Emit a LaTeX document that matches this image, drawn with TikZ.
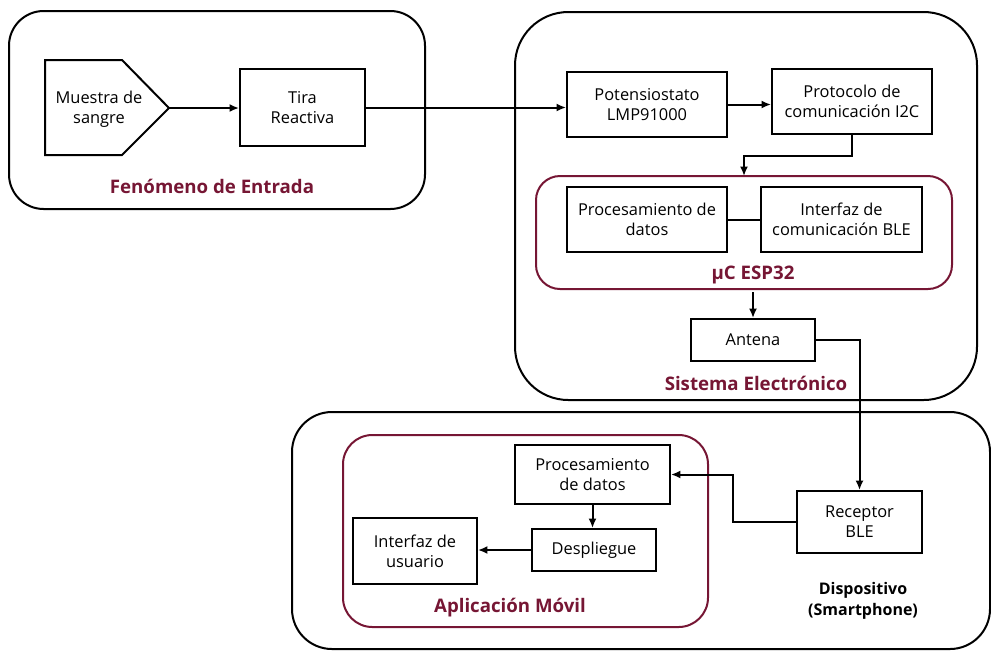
\documentclass[tikz,border=0pt]{standalone}
\usepackage{fontspec}
\setmainfont{Open Sans}
\usepackage{tikz}
\usetikzlibrary{arrows.meta}

\definecolor{vino}{RGB}{118,22,52}
\tikzset{
  bloque/.style={draw, line width=1.5pt, align=center, font=\fontsize{12.3}{15}\selectfont, inner sep=2pt},
  marco/.style={draw, line width=1.5pt},
  marcovino/.style={draw=vino, line width=1.5pt},
  titulo/.style={text=vino, font=\fontsize{14}{17}\selectfont\bfseries},
  flecha/.style={line width=1.5pt, -{Latex[length=7pt,width=6pt]}},
  linea/.style={line width=1.5pt}
}

\begin{document}
\begin{tikzpicture}[x=0.75pt,y=0.75pt,yscale=-1,xscale=1]
            \useasboundingbox (0,0) rectangle (991,651);
            \draw  [marco, rounded corners=26pt]  (9,11) rectangle (425,209) ;
            \draw  [marco, rounded corners=40pt]  (515,12) rectangle (977,400) ;
            \draw  [marco, rounded corners=30pt]  (292,412) rectangle (990,649) ;
            \draw  [marcovino, rounded corners=18pt]  (536,176) rectangle (952,289) ;
            \draw  [marcovino, rounded corners=22pt]  (343,435) rectangle (708,627) ;
            \draw  [marco]  (45,60) -- (122,60) -- (169,108) -- (122,155) -- (45,155) -- cycle ;
            \coordinate (puntaMuestra) at (169,108);
            \coordinate (espArriba) at (744,176);
            \coordinate (espAbajo) at (753,292);
            \node (muestra) at (99,109) [align=center, font=\fontsize{12.3}{15}\selectfont] {Muestra de\\sangre};
            \node (tira) at (302.5,107.5) [bloque, minimum width=93.75pt, minimum height=57.75pt] {Tira\\Reactiva};
            \node (poten) at (647,104.5) [bloque, minimum width=120pt, minimum height=48.75pt] {Potensiostato\\LMP91000};
            \node (proto) at (852,101.5) [bloque, minimum width=120pt, minimum height=48.75pt] {Protocolo de\\comunicación I2C};
            \node (procEsp) at (647,219.5) [bloque, minimum width=120pt, minimum height=48.75pt] {Procesamiento de\\datos};
            \node (interBle) at (841.5,219.5) [bloque, minimum width=120.75pt, minimum height=48.75pt] {Interfaz de\\comunicación BLE};
            \node (antena) at (753,340) [bloque, minimum width=93pt, minimum height=31.5pt] {Antena};
            \node (receptor) at (859.5,522) [bloque, minimum width=93.75pt, minimum height=46.5pt] {Receptor\\BLE};
            \node (procApp) at (592.5,474.5) [bloque, minimum width=116.25pt, minimum height=44.25pt] {Procesamiento\\de datos};
            \node (despliegue) at (594,550) [bloque, minimum width=93pt, minimum height=31.5pt] {Despliegue};
            \node (usuario) at (415,551) [bloque, minimum width=93pt, minimum height=49.5pt] {Interfaz de\\usuario};
            \node (tFenomeno) at (212,186) [titulo] {Fenómeno de Entrada};
            \node (tEsp) at (753,275) [titulo] {µC ESP32};
            \node (tSistema) at (756,383) [titulo] {Sistema Electrónico};
            \node (tApp) at (510,608) [titulo] {Aplicación Móvil};
            \node (tDispositivo) at (863,601) [align=center, font=\fontsize{12}{15.5}\selectfont\bfseries] {Dispositivo\\(Smartphone)};
            \draw  [flecha]  (puntaMuestra) -- (puntaMuestra -| tira.west) ;
            \draw  [flecha]  (tira.east) -- (tira.east -| poten.west) ;
            \draw  [flecha]  (poten.east) -- (poten.east -| proto.west) ;
            \draw  [flecha]  (proto.south) -- ++(0,21) -| (espArriba) ;
            \draw  [linea]  (procEsp.east) -- (interBle.west) ;
            \draw  [flecha]  (espAbajo) -- (antena.north) ;
            \draw  [flecha]  (antena.east) -| (receptor.north) ;
            \draw  [flecha]  (receptor.west) -- ++(-63,0) |- (procApp.east) ;
            \draw  [flecha]  (procApp.south) -- (procApp.south |- despliegue.north) ;
            \draw  [flecha]  (despliegue.west) -- (despliegue.west -| usuario.east) ;
          \end{tikzpicture}
\end{document}
